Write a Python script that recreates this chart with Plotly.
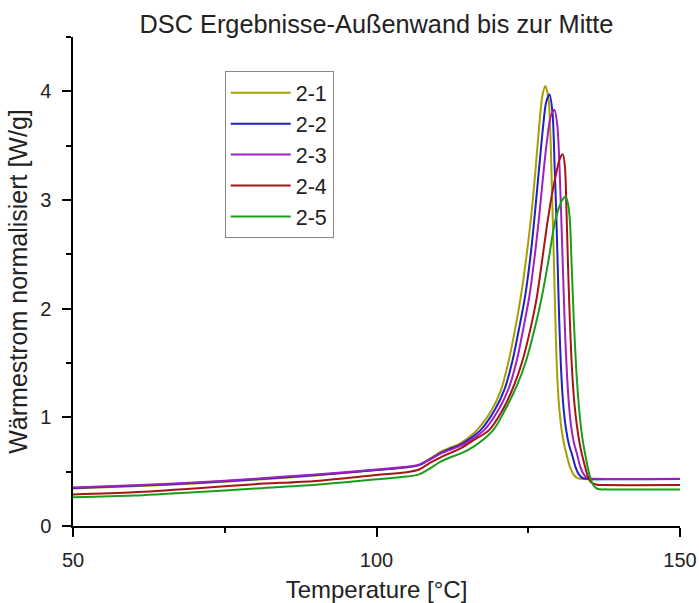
import plotly.graph_objects as go

# DSC heat-flow curves (normalised), five samples from the outer wall to the middle
names = ["2-1", "2-2", "2-3", "2-4", "2-5"]
colors = ["#a6a000", "#2020c8", "#a020c0", "#a81414", "#1a9e1a"]

temp_21 = [50, 60, 70, 80, 90, 100, 105, 107, 108.8, 110.5, 112.1, 113.5, 114.6, 116.5, 119.0, 120.5, 121.7,
           122.8, 123.8, 124.7, 125.5, 126.2, 126.8, 127.3, 127.8, 128.3, 128.65, 128.9, 129.15, 129.4,
           129.65, 129.95, 130.35, 130.8, 131.3, 131.9, 132.5, 133.1, 134, 140, 150]
heat_21 = [0.345, 0.365, 0.39, 0.425, 0.465, 0.515, 0.54, 0.56, 0.62, 0.68, 0.72, 0.75, 0.79, 0.88, 1.07, 1.25, 1.5,
           1.8, 2.12, 2.48, 2.86, 3.28, 3.68, 3.95, 4.05, 3.95, 3.6, 3.1, 2.6, 2.05,
           1.55, 1.2, 0.95, 0.78, 0.66, 0.54, 0.47, 0.44, 0.433, 0.432, 0.432]

temp_22 = [50, 60, 70, 80, 90, 100, 105, 107, 108.8, 110.5, 112.1, 113.5, 114.6, 117.1, 119.5, 121.1, 122.4,
           123.5, 124.5, 125.4, 126.1, 126.8, 127.4, 127.95, 128.5, 129.0, 129.35, 129.6, 129.85, 130.1,
           130.4, 130.75, 131.2, 131.7, 132.2, 132.8, 133.4, 134.0, 135, 150]
heat_22 = [0.35, 0.37, 0.395, 0.43, 0.47, 0.515, 0.54, 0.56, 0.615, 0.67, 0.71, 0.74, 0.775, 0.88, 1.07, 1.26, 1.52,
           1.82, 2.12, 2.5, 2.88, 3.3, 3.65, 3.9, 3.97, 3.8, 3.3, 2.9, 2.4, 1.9,
           1.45, 1.13, 0.9, 0.75, 0.66, 0.54, 0.47, 0.44, 0.433, 0.432]

temp_23 = [50, 60, 70, 80, 90, 100, 105, 107, 108.8, 110.5, 112.1, 113.5, 114.6, 117.7, 120.1, 121.8, 123.1,
           124.2, 125.2, 126.1, 126.8, 127.5, 128.1, 128.7, 129.3, 129.8, 130.15, 130.45, 130.75, 131.05,
           131.35, 131.7, 132.1, 132.55, 133.0, 133.6, 134.2, 134.8, 136, 150]
heat_23 = [0.355, 0.375, 0.4, 0.435, 0.475, 0.52, 0.545, 0.565, 0.61, 0.665, 0.70, 0.73, 0.76, 0.88, 1.07, 1.27, 1.52,
           1.82, 2.12, 2.5, 2.85, 3.25, 3.55, 3.77, 3.83, 3.68, 3.3, 2.82, 2.3, 1.8,
           1.43, 1.12, 0.9, 0.76, 0.67, 0.54, 0.47, 0.44, 0.435, 0.435]

temp_24 = [50, 60, 70, 80, 90, 100, 105, 107, 108.8, 110.5, 112.1, 114, 116, 118.5, 120.8, 122.7, 124.1,
           125.3, 126.4, 127.3, 128.1, 128.9, 129.7, 130.2, 130.7, 131.05, 131.3, 131.55, 131.85, 132.2,
           132.6, 133.0, 133.4, 133.8, 134.3, 134.8, 135.4, 136.3, 137.5, 150]
heat_24 = [0.29, 0.31, 0.345, 0.385, 0.415, 0.47, 0.495, 0.52, 0.58, 0.63, 0.67, 0.72, 0.79, 0.88, 1.07, 1.3, 1.53,
           1.8, 2.1, 2.45, 2.77, 3.05, 3.27, 3.38, 3.42, 3.3, 2.9, 2.4, 1.9, 1.45,
           1.13, 0.93, 0.78, 0.67, 0.56, 0.46, 0.40, 0.38, 0.377, 0.377]

temp_25 = [50, 60, 70, 80, 90, 100, 105, 107, 108.8, 110.5, 112.1, 114, 116, 119.2, 121.2, 123.2, 124.7,
           125.9, 127.1, 128.2, 129.3, 130.0, 130.6, 131.1, 131.5, 131.85, 132.15, 132.5, 132.9, 133.3,
           133.7, 134.05, 134.35, 134.8, 135.3, 135.8, 136.5, 138, 150]
heat_25 = [0.265, 0.28, 0.31, 0.345, 0.38, 0.43, 0.455, 0.475, 0.53, 0.59, 0.63, 0.67, 0.73, 0.88, 1.07, 1.3, 1.53,
           1.78, 2.07, 2.4, 2.77, 2.92, 3.0, 3.03, 2.98, 2.82, 2.4, 1.9, 1.45, 1.13,
           0.9, 0.76, 0.67, 0.54, 0.43, 0.37, 0.34, 0.337, 0.337]

temps = [temp_21, temp_22, temp_23, temp_24, temp_25]
heats = [heat_21, heat_22, heat_23, heat_24, heat_25]

x_ticks = [50, 100, 150]
y_ticks = [0, 1, 2, 3, 4]

FONT = "Liberation Sans, Arial, Helvetica, sans-serif"

fig = go.Figure()
for name, color, t, h in zip(names, colors, temps, heats):
    fig.add_trace(go.Scatter(
        x=t, y=h, name=name, mode="lines",
        line=dict(color=color, width=2, shape="spline", smoothing=0.8),
    ))

axis_common = dict(
    showgrid=False, zeroline=False, showline=True, linecolor="black", linewidth=1.5,
    ticks="outside", ticklen=9, tickwidth=1.5, tickcolor="black",
    tickfont=dict(family=FONT, size=20, color="#222"),
    minor=dict(ticks="outside", ticklen=5, tickwidth=1.5, tickcolor="black"),
    automargin=False,
)

fig.update_layout(
    width=699, height=603,
    margin=dict(l=73, r=19, t=37, b=77),
    paper_bgcolor="white", plot_bgcolor="white",
    font=dict(family=FONT, color="#222"),
    title=dict(text="DSC Ergebnisse-Außenwand bis zur Mitte",
               font=dict(family=FONT, size=25.3, color="#222"),
               x=0.5, xref="paper", xanchor="center", y=0.96, yref="container", yanchor="middle",
               automargin=False),
    xaxis=dict(range=[50, 150], tickvals=x_ticks, ticklabelstandoff=6,
               minor_dtick=25, minor_tick0=50,
               title=dict(text="Temperature [°C]", font=dict(family=FONT, size=24, color="#222"), standoff=14),
               **axis_common),
    yaxis=dict(range=[0, 4.5], tickvals=y_ticks, ticklabelstandoff=7,
               minor_dtick=0.5, minor_tick0=0,
               title=dict(text="Wärmestrom normalisiert [W/g]", font=dict(family=FONT, size=25, color="#222"), standoff=5),
               **axis_common),
    legend=dict(x=0.25, y=0.93, xanchor="left", yanchor="top",
                bordercolor="#888", borderwidth=1, bgcolor="white",
                font=dict(family=FONT, size=21.5, color="#222"),
                itemwidth=60, tracegroupgap=0),
    showlegend=True,
)

fig.write_html("out.html")
